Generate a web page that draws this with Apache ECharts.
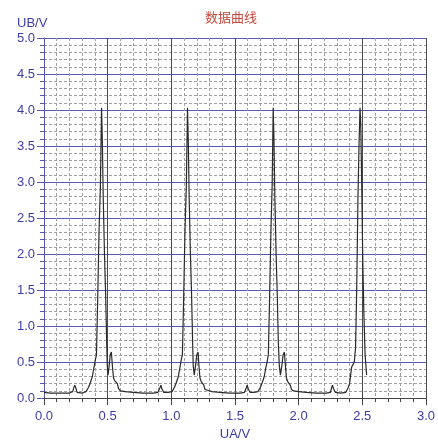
<!DOCTYPE html>
<html>
<head>
<meta charset="utf-8">
<script src="https://cdn.jsdelivr.net/npm/echarts@6/dist/echarts.min.js"></script>
<style>html,body{margin:0;padding:0;background:#fff;width:100%;height:100%;overflow:hidden}#c{width:438px;height:446px}</style>
</head>
<body>
<div id="c"></div>
<script>
var titleText = '数据曲线';
var xName = 'UA/V';
var yName = 'UB/V';
var xValues = [
0.000,0.010,0.050,0.100,0.150,0.200,0.225,0.235,0.242,0.250,0.260,0.270,0.300,0.330,0.350,0.365,0.380,0.392,0.402,0.412,0.422,0.432,0.443,0.452,0.458,0.465,0.475,0.484,0.492,0.497,0.503,0.512,0.520,0.529,0.537,0.546,0.556,0.566,0.576,0.586,0.600,0.640,0.700,0.780,0.860,
0.895,0.910,0.918,0.926,0.940,0.975,1.005,1.025,1.040,1.055,1.067,1.077,1.087,1.097,1.107,1.118,1.127,1.133,1.140,1.150,1.159,1.167,1.172,1.180,1.190,1.200,1.210,1.217,1.225,1.235,1.245,1.255,1.265,1.280,1.320,1.380,1.460,1.540,
1.575,1.588,1.596,1.604,1.618,1.650,1.680,1.700,1.715,1.730,1.742,1.752,1.762,1.772,1.782,1.792,1.800,1.806,1.813,1.823,1.832,1.840,1.848,1.857,1.868,1.878,1.888,1.896,1.904,1.914,1.924,1.934,1.944,1.960,2.000,2.060,2.140,2.220,
2.250,2.258,2.266,2.274,2.288,2.330,2.370,2.385,2.400,2.416,2.437,2.447,2.456,2.466,2.474,2.482,2.488,2.495,2.503,2.512,2.522,2.534
];
var yValues = [
0.08,0.07,0.07,0.07,0.07,0.07,0.09,0.15,0.18,0.14,0.08,0.07,0.07,0.09,0.15,0.22,0.30,0.42,0.52,0.60,1.40,2.30,2.95,4.03,3.60,2.80,2.00,1.45,0.80,0.45,0.32,0.45,0.60,0.64,0.45,0.28,0.24,0.22,0.20,0.13,0.10,0.09,0.08,0.07,0.07,
0.08,0.14,0.18,0.13,0.08,0.08,0.09,0.15,0.22,0.30,0.42,0.52,0.60,1.40,2.30,2.95,4.03,3.60,2.80,2.00,1.45,0.80,0.45,0.32,0.45,0.60,0.64,0.45,0.28,0.23,0.21,0.18,0.12,0.10,0.09,0.08,0.07,0.07,
0.08,0.14,0.18,0.13,0.08,0.08,0.09,0.15,0.22,0.30,0.42,0.50,0.60,1.40,2.30,2.95,4.03,3.60,2.80,2.00,1.45,0.80,0.45,0.32,0.45,0.60,0.64,0.45,0.28,0.23,0.21,0.18,0.12,0.10,0.09,0.08,0.07,0.07,
0.08,0.14,0.18,0.13,0.08,0.07,0.08,0.13,0.20,0.43,0.50,0.70,1.50,2.80,3.50,4.03,3.80,3.00,2.00,1.20,0.60,0.32
];
var points = xValues.map(function (x, i) { return [x, yValues[i]]; });

var labelColor = '#3c3ca8';
var chart = echarts.init(document.getElementById('c'), null, {renderer: 'canvas'});
chart.setOption({
  backgroundColor: '#fff',
  animation: false,
  title: {
    text: titleText, left: 200, top: 6,
    textStyle: {color: '#c44a3e', fontSize: 13, fontWeight: 'normal', fontFamily: 'Noto Sans CJK SC'}
  },
  graphic: [{
    type: 'text', left: 17, top: 17,
    style: {text: yName, fill: labelColor, font: '13px "Liberation Sans"'}
  }],
  grid: {left: 44, right: 10, top: 38, bottom: 41},
  xAxis: {
    type: 'value', min: 0, max: 3, interval: 0.5,
    name: xName, nameLocation: 'middle', nameGap: 28,
    nameTextStyle: {color: labelColor, fontSize: 13, fontFamily: 'Liberation Sans'},
    axisLine: {show: true, lineStyle: {color: '#444', width: 1}},
    axisTick: {show: true, length: 7, lineStyle: {color: '#444'}},
    minorTick: {show: true, splitNumber: 5, length: 4, lineStyle: {color: '#444'}},
    axisLabel: {color: labelColor, fontSize: 13, margin: 12, fontFamily: 'Liberation Sans',
      formatter: function (v) { return v.toFixed(1); }},
    splitLine: {show: true, lineStyle: {color: '#4a4a4a', width: 1}},
    minorSplitLine: {show: true, lineStyle: {color: '#a0a0a0', type: [3, 2], width: 1}}
  },
  yAxis: {
    type: 'value', min: 0, max: 5, interval: 0.5,
    axisLine: {show: true, lineStyle: {color: '#5555b0', width: 1}},
    axisTick: {show: true, length: 7, lineStyle: {color: '#5555b0'}},
    minorTick: {show: true, splitNumber: 5, length: 4, lineStyle: {color: '#5555b0'}},
    axisLabel: {color: labelColor, fontSize: 13, margin: 9, fontFamily: 'Liberation Sans',
      formatter: function (v) { return v.toFixed(1); }},
    splitLine: {show: true, lineStyle: {color: '#5a5ab0', width: 1}},
    minorSplitLine: {show: true, lineStyle: {color: '#a0a0a0', type: [3, 2], width: 1}}
  },
  series: [{
    type: 'line', data: points, showSymbol: false, symbol: 'none',
    lineStyle: {color: '#2a2a2a', width: 1.2}, smooth: false
  }]
});
</script>
</body>
</html>
